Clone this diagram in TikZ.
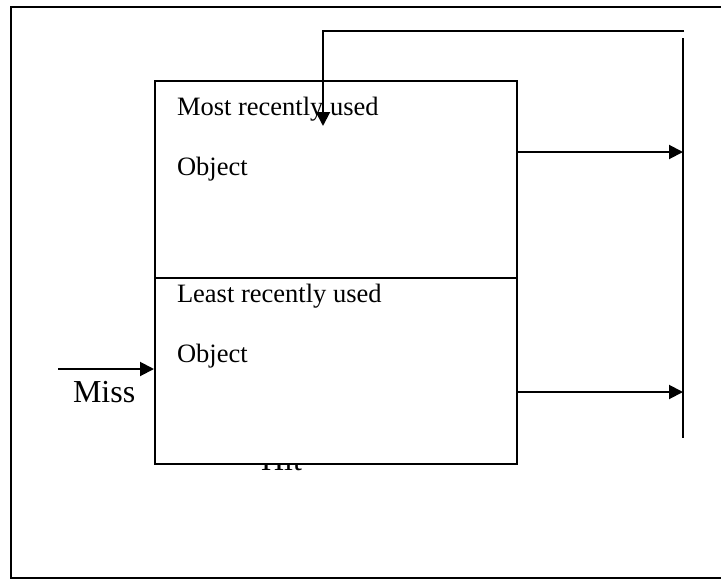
\documentclass[tikz,border=0pt]{standalone}
\usepackage{fontspec}
\setmainfont{Liberation Serif}
\usetikzlibrary{arrows.meta}
\begin{document}
\begin{tikzpicture}[x=1pt,y=-1pt, line width=2pt,
  lbl/.style={anchor=base west, inner sep=0pt, font=\fontsize{26.5}{30}\selectfont},
  big/.style={anchor=base west, inner sep=0pt, font=\fontsize{32}{36}\selectfont},
  cell/.style={draw, fill=white, inner sep=0pt, anchor=north west, minimum width=362pt},
  arr/.style={-{Triangle[length=14pt,width=14pt]}}]
\useasboundingbox (0,0) rectangle (721,579);
\draw[line width=2.5pt] (722,7) -- (11,7) -- (11,578) -- (722,578);
\node[big] (hit) at (260,470) {Hit};
\node[cell, minimum height=197pt] (mru) at (154,80) {};
\node[cell, minimum height=186pt] (lru) at (154,277) {};
\node[lbl] (t1) at (176,115) {Most recently used};
\node[lbl] (t2) at (176,175) {Object};
\node[lbl] (t3) at (176,302) {Least recently used};
\node[lbl] (t4) at (176,362) {Object};
\node[big] (miss) at (72,402) {Miss};
\coordinate (bt) at (683,38);
\coordinate (bb) at (683,438);
\draw (bt) -- (bb);
\coordinate (r1) at (683,152);
\coordinate (r2) at (683,392);
\draw[arr] (mru.east |- r1) -- (r1);
\draw[arr] (lru.east |- r2) -- (r2);
\coordinate (missin) at (58,369);
\draw[arr] (missin) -- (lru.west |- missin);
\coordinate (fb) at (684,31);
\coordinate (fbc) at (323,31);
\coordinate (fbe) at (323,126);
\draw[arr] (fb) -- (fbc) -- (fbe);
\end{tikzpicture}
\end{document}
